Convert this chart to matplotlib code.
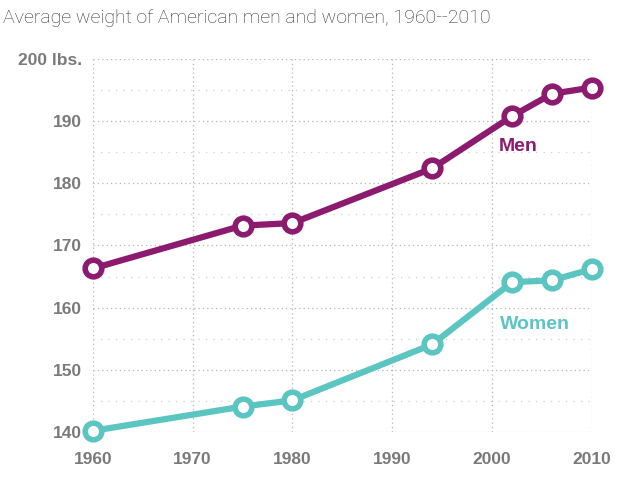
import matplotlib
matplotlib.use("Agg")
import matplotlib.pyplot as plt
from matplotlib.ticker import MultipleLocator

years = [1960, 1975, 1980, 1994, 2002, 2006, 2010]
men = [166.3, 173.2, 173.6, 182.4, 190.8, 194.4, 195.4]
women = [140.2, 144.1, 145.1, 154.1, 164.1, 164.4, 166.2]
xticks = [1960, 1970, 1980, 1990, 2000, 2010]
yticks = [140, 150, 160, 170, 180, 190, 200]
ylabels = ["140", "150", "160", "170", "180", "190", "200 lbs."]

men_c = "#8C1A6E"
women_c = "#5BC5C2"
tick_c = "#7a7a7a"

plt.rcParams['font.family'] = ['Liberation Sans', 'DejaVu Sans']

fig = plt.figure(figsize=(6.4, 4.79), dpi=100)
ax = fig.add_axes([0.145, 0.098, 0.78, 0.779])
ax.set_xlim(1960, 2010)
ax.set_ylim(140, 200)

for s in ax.spines.values():
    s.set_visible(False)

ax.set_xticks(xticks)
ax.set_yticks(yticks)
ax.set_yticklabels(ylabels)
ax.yaxis.set_minor_locator(MultipleLocator(5))
ax.tick_params(axis='both', which='both', length=0, colors=tick_c, labelsize=12.5)
ax.tick_params(axis='x', pad=14)
ax.tick_params(axis='y', pad=8)
for lab in ax.get_xticklabels() + ax.get_yticklabels():
    lab.set_fontweight('bold')

ax.grid(True, which='major', axis='both', color='#b5b5b5', linestyle=(0, (1, 2.5)), linewidth=0.9)
ax.grid(True, which='minor', axis='y', color='#cfcfcf', linestyle=(0, (1, 5)), linewidth=0.9)
ax.set_axisbelow(True)

for vals, c in [(men, men_c), (women, women_c)]:
    ax.plot(years, vals, color=c, linewidth=4.5, marker='o', markersize=12,
            markerfacecolor='white', markeredgecolor=c, markeredgewidth=4,
            clip_on=False, zorder=3)

ax.text(2002.6, 185.9, "Men", color=men_c, fontsize=14, fontweight='bold', ha='center', va='center')
ax.text(2004.3, 157.3, "Women", color=women_c, fontsize=14, fontweight='bold', ha='center', va='center')

fig.text(0.005, 0.962, "Average weight of American men and women, 1960--2010",
         fontsize=14, color='#333333', ha='left', va='center',
         family=['Roboto', 'DejaVu Sans'], fontweight='light')

fig.savefig("out.png", dpi=100)
